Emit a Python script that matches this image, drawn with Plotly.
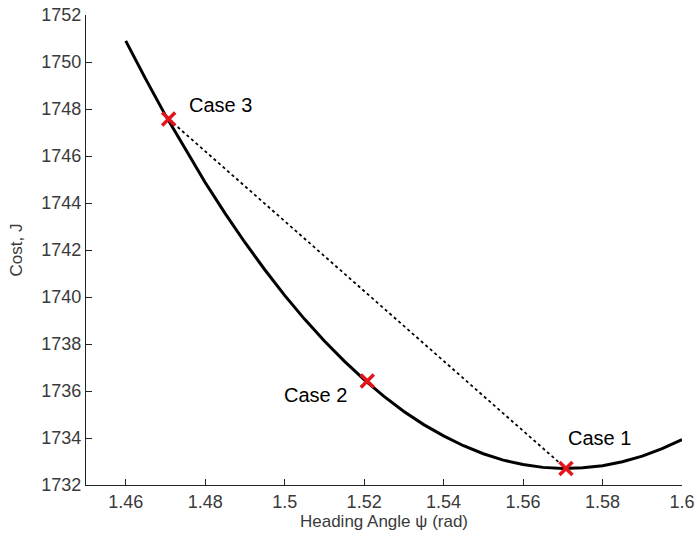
import plotly.graph_objects as go

# Curve data
psi = [1.460, 1.465, 1.470, 1.475, 1.480, 1.485, 1.490, 1.495, 1.500, 1.505,
       1.510, 1.515, 1.520, 1.525, 1.530, 1.535, 1.540, 1.545, 1.550, 1.555,
       1.560, 1.565, 1.570, 1.575, 1.580, 1.585, 1.590, 1.595, 1.600]
cost = [1750.90, 1749.28, 1747.73, 1746.27, 1744.87, 1743.56, 1742.32, 1741.16,
        1740.07, 1739.06, 1738.13, 1737.27, 1736.48, 1735.77, 1735.13, 1734.57,
        1734.09, 1733.67, 1733.33, 1733.06, 1732.87, 1732.75, 1732.70, 1732.73,
        1732.82, 1732.99, 1733.23, 1733.55, 1733.93]

# Case points
case_names = ["Case 1", "Case 2", "Case 3"]
case_psi = [1.5708, 1.5208, 1.4708]
case_cost = [1732.70, 1736.43, 1747.57]

x_ticks = [1.46, 1.48, 1.50, 1.52, 1.54, 1.56, 1.58, 1.60]
x_tick_labels = ["1.46", "1.48", "1.5", "1.52", "1.54", "1.56", "1.58", "1.6"]
y_ticks = [1732, 1734, 1736, 1738, 1740, 1742, 1744, 1746, 1748, 1750, 1752]

fig = go.Figure()

fig.add_trace(go.Scatter(x=psi, y=cost, mode="lines",
                         line=dict(color="black", width=3), showlegend=False))

# dotted chord Case 3 -> Case 1
fig.add_trace(go.Scatter(x=[case_psi[2], case_psi[0]], y=[case_cost[2], case_cost[0]],
                         mode="lines", line=dict(color="black", width=1.8, dash="dot"),
                         showlegend=False))

fig.add_trace(go.Scatter(x=case_psi, y=case_cost, mode="markers",
                         marker=dict(symbol="x-thin", size=13,
                                     line=dict(color="#e3141b", width=3.5)),
                         showlegend=False, cliponaxis=False))

font_lbl = dict(family="Liberation Sans, Arial, sans-serif", size=20, color="black")
fig.add_annotation(x=case_psi[2] + 0.0045, y=case_cost[2] + 0.6, text=case_names[2],
                   showarrow=False, xanchor="left", yanchor="middle", font=font_lbl)
fig.add_annotation(x=case_psi[1] - 0.0045, y=case_cost[1] - 0.6, text=case_names[1],
                   showarrow=False, xanchor="right", yanchor="middle", font=font_lbl)
fig.add_annotation(x=case_psi[0], y=case_cost[0] + 1.3, text=case_names[0],
                   showarrow=False, xanchor="left", yanchor="middle", font=font_lbl)

axis_font = dict(family="Liberation Sans, Arial, sans-serif", size=18, color="#3a3a3a")
title_font = dict(family="Liberation Sans, Arial, sans-serif", size=17, color="#3a3a3a")

fig.update_layout(
    width=697, height=542,
    margin=dict(l=86, r=15, t=15, b=57),
    plot_bgcolor="white", paper_bgcolor="white",
    xaxis=dict(range=[1.45, 1.60], tickvals=x_ticks, ticktext=x_tick_labels,
               automargin=False,
               showgrid=False, zeroline=False, showline=True, linecolor="#222222",
               linewidth=1.2, ticks="inside", ticklen=6, tickcolor="#222222",
               tickfont=axis_font,
               title=dict(text="Heading Angle ψ (rad)", font=title_font, standoff=3)),
    yaxis=dict(range=[1732, 1752], tickvals=y_ticks, automargin=False,
               showgrid=False, zeroline=False, showline=True, linecolor="#222222",
               linewidth=1.2, ticks="inside", ticklen=6, tickcolor="#222222",
               tickfont=axis_font,
               title=dict(text="Cost, J", font=title_font, standoff=14)),
)

fig.write_html("out.html", config={"displayModeBar": False},
               post_script="document.body.style.margin='0';document.body.style.overflow='hidden';")
